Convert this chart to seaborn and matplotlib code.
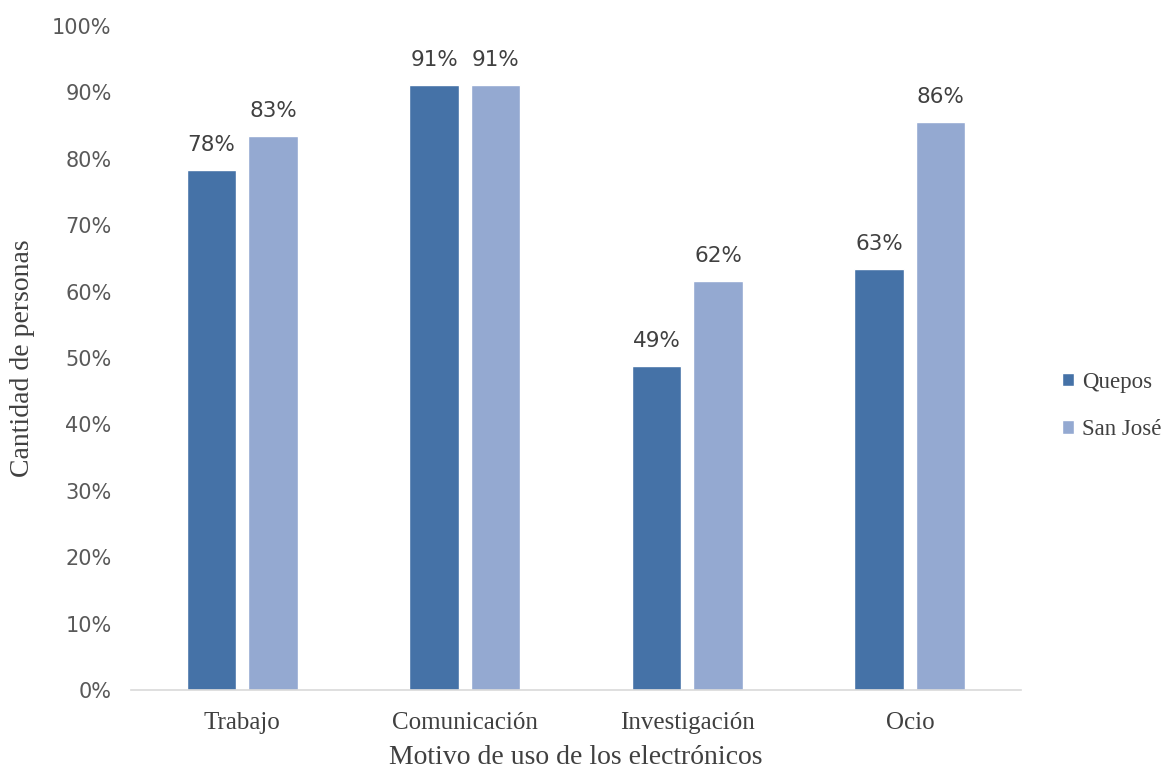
import matplotlib
matplotlib.use("Agg")
import matplotlib.pyplot as plt
import seaborn as sns
import pandas as pd
from matplotlib.ticker import PercentFormatter

categories = ["Trabajo", "Comunicación", "Investigación", "Ocio"]
series_names = ["Quepos", "San José"]
quepos = [0.783, 0.911, 0.488, 0.634]
san_jose = [0.834, 0.911, 0.616, 0.855]
y_ticks = [0, 0.1, 0.2, 0.3, 0.4, 0.5, 0.6, 0.7, 0.8, 0.9, 1.0]

df = pd.DataFrame({
    "Motivo": categories * 2,
    "Serie": [series_names[0]] * 4 + [series_names[1]] * 4,
    "Valor": quepos + san_jose,
})

sns.set_theme(style="white")
serif = ["Liberation Serif", "DejaVu Serif"]
sans = ["DejaVu Sans"]

fig = plt.figure(figsize=(11.75, 7.69), dpi=100)
ax = fig.add_axes([0.1115, 0.1027, 0.7575, 0.8635])

palette = {"Quepos": "#4572A7", "San José": "#94A9D1"}
sns.barplot(data=df, x="Motivo", y="Valor", hue="Serie", palette=palette,
            width=0.552, gap=0.19, ax=ax, saturation=1, legend=True)

ax.set_ylim(0, 1.0)
ax.set_xlim(-0.5, 3.5)
ax.set_yticks(y_ticks)
ax.yaxis.set_major_formatter(PercentFormatter(1.0, decimals=0))
for lbl in ax.get_yticklabels():
    lbl.set_fontfamily(sans)
    lbl.set_fontsize(15)
    lbl.set_color("#595959")
for lbl in ax.get_xticklabels():
    lbl.set_fontfamily(serif)
    lbl.set_fontsize(18)
    lbl.set_color("#404040")
ax.tick_params(axis="y", length=0, pad=14)
ax.tick_params(axis="x", length=0, pad=16)

for s in ["top", "right", "left"]:
    ax.spines[s].set_visible(False)
ax.spines["bottom"].set_color("#D9D9D9")
ax.spines["bottom"].set_linewidth(1.2)

for cont in ax.containers:
    labels = [f"{round(v.get_height() * 100):.0f}%" for v in cont]
    ax.bar_label(cont, labels=labels, padding=11, fontsize=15.5,
                 color="#404040", fontfamily=sans)

ax.set_xlabel("Motivo de uso de los electrónicos", fontsize=20,
              fontfamily=serif, color="#404040", labelpad=8)
ax.set_ylabel("Cantidad de personas", fontsize=20,
              fontfamily=serif, color="#404040", labelpad=12)

leg = ax.legend(loc="center left", bbox_to_anchor=(1.03, 0.428),
                frameon=False, prop={"family": serif, "size": 16.5},
                handlelength=0.55, handleheight=0.55, handletextpad=0.35,
                labelspacing=1.15, borderaxespad=0.2)
for t in leg.get_texts():
    t.set_color("#404040")

fig.savefig("out.png", dpi=100)
